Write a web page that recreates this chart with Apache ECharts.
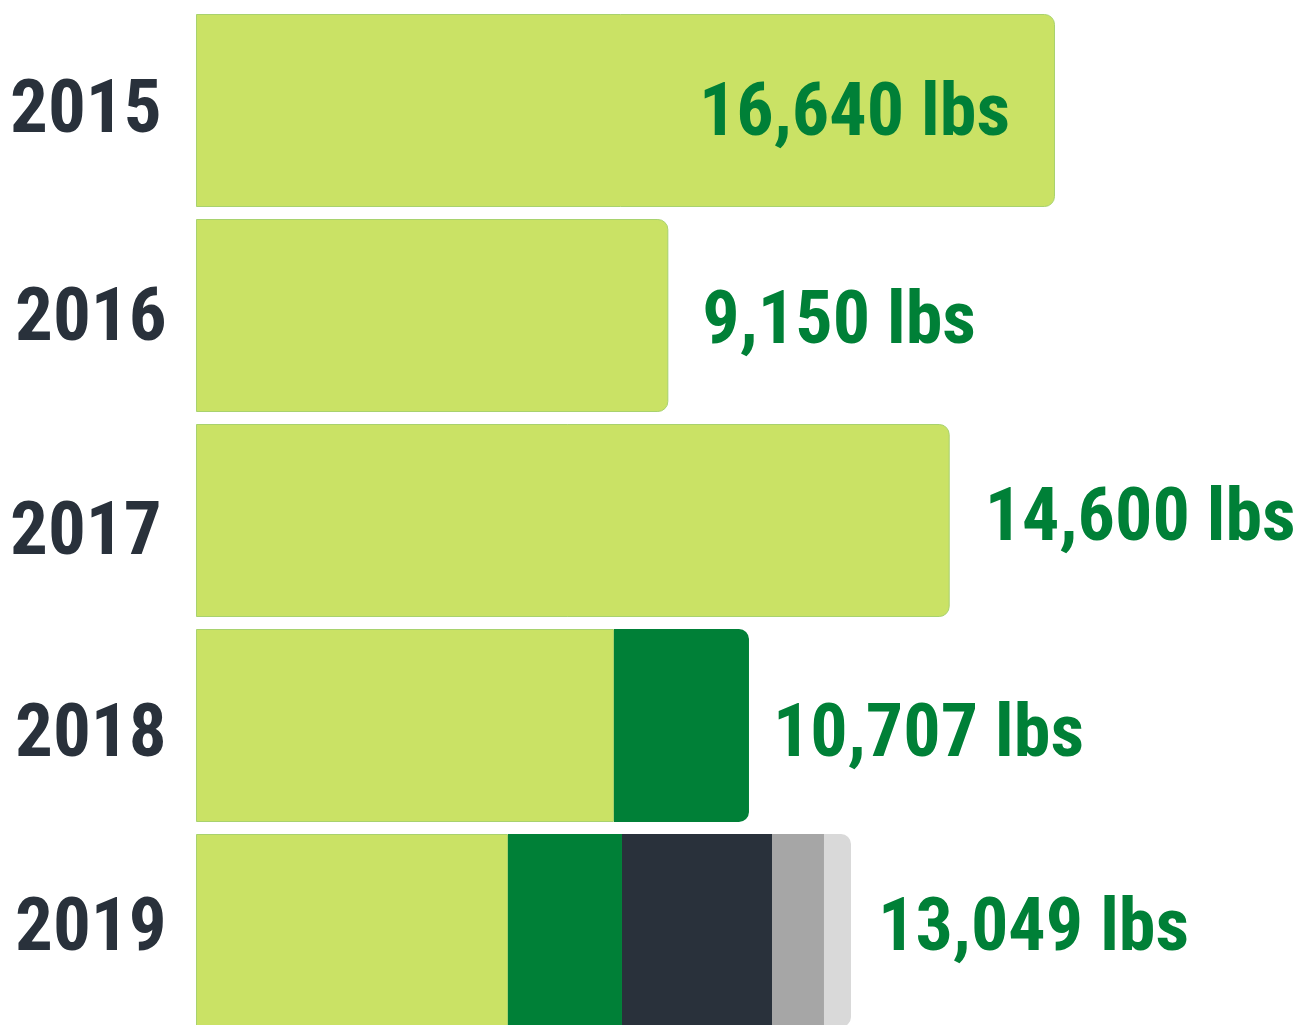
<!DOCTYPE html>
<html><head><meta charset="utf-8">
<script src="https://cdn.jsdelivr.net/npm/echarts@6/dist/echarts.min.js"></script>
<style>html,body{margin:0;padding:0;background:#fff}#c{width:1305px;height:1025px}</style>
</head><body><div id="c"></div>
<script>
const years = ['2015','2016','2017','2018','2019'];
const totalLabels = ['16,640 lbs','9,150 lbs','14,600 lbs','10,707 lbs','13,049 lbs'];
const seg1 = [16640, 9150, 14600, 8097, 6044];
const seg2 = [null, null, null, 2615, 2208];
const seg3 = [null, null, null, null, 2906];
const seg4 = [null, null, null, null, 1007];
const seg5 = [null, null, null, null, 523];

const FONT = '"Roboto Condensed", Roboto, sans-serif';
const segs = [seg1, seg2, seg3, seg4, seg5];
const colors = ['#cae265', '#008037', '#29313b', '#a6a6a6', '#d9d9d9'];

// label placement tweaks (style only): [dx, dy]
const yearShift = [[0, 3], [5, 6], [0, 15], [5, 12], [5, 1]];
const valShift = [[45, 6], [34, 9], [35, 1], [24, 12], [27, 1]];

const lastIdx = years.map((_, i) => { let l = 0; segs.forEach((s, k) => { if (s[i] != null) l = k; }); return l; });

const series = segs.map((s, k) => ({
  type: 'bar', stack: 'total', barWidth: 193, silent: true,
  itemStyle: { color: colors[k], borderColor: k === 0 ? '#a8d26e' : colors[k], borderWidth: k === 0 ? 1 : 0 },
  data: s.map((v, i) => v == null ? null : ({ value: v, itemStyle: { borderRadius: lastIdx[i] === k ? [0, 10, 10, 0] : 0 } }))
}));
series.push({
  type: 'bar', stack: 'total', barWidth: 193, silent: true,
  itemStyle: { color: 'transparent' },
  label: { show: true, position: 'right', color: '#008037', fontFamily: FONT, fontWeight: 'bold', fontSize: 74,
    formatter: p => totalLabels[p.dataIndex] },
  data: years.map((_, i) => ({ value: 0, label: { position: i === 0 ? 'left' : 'right', distance: valShift[i][0], offset: [0, valShift[i][1]] } }))
});

const rich = {};
yearShift.forEach((s, i) => {
  rich['y' + i] = { color: '#29313b', fontFamily: FONT, fontWeight: 'bold', fontSize: 75,
    padding: [Math.max(0, 2 * s[1]), 0, Math.max(0, -2 * s[1]), s[0]] };
});

const chart = echarts.init(document.getElementById('c'), null, { renderer: 'canvas' });
chart.setOption({
  animation: false,
  grid: { left: 196, top: 8, height: 1025, right: 0, containLabel: false, outerBoundsMode: 'none' },
  xAxis: { type: 'value', min: 0, max: 21483, show: false },
  yAxis: { type: 'category', inverse: true, data: years,
    axisLine: { show: false }, axisTick: { show: false },
    axisLabel: { align: 'left', verticalAlign: 'middle', margin: 186, color: '#29313b', fontFamily: FONT, fontWeight: 'bold', fontSize: 75,
      formatter: (v, i) => '{y' + i + '|' + v + '}', rich } },
  series
});
</script></body></html>
